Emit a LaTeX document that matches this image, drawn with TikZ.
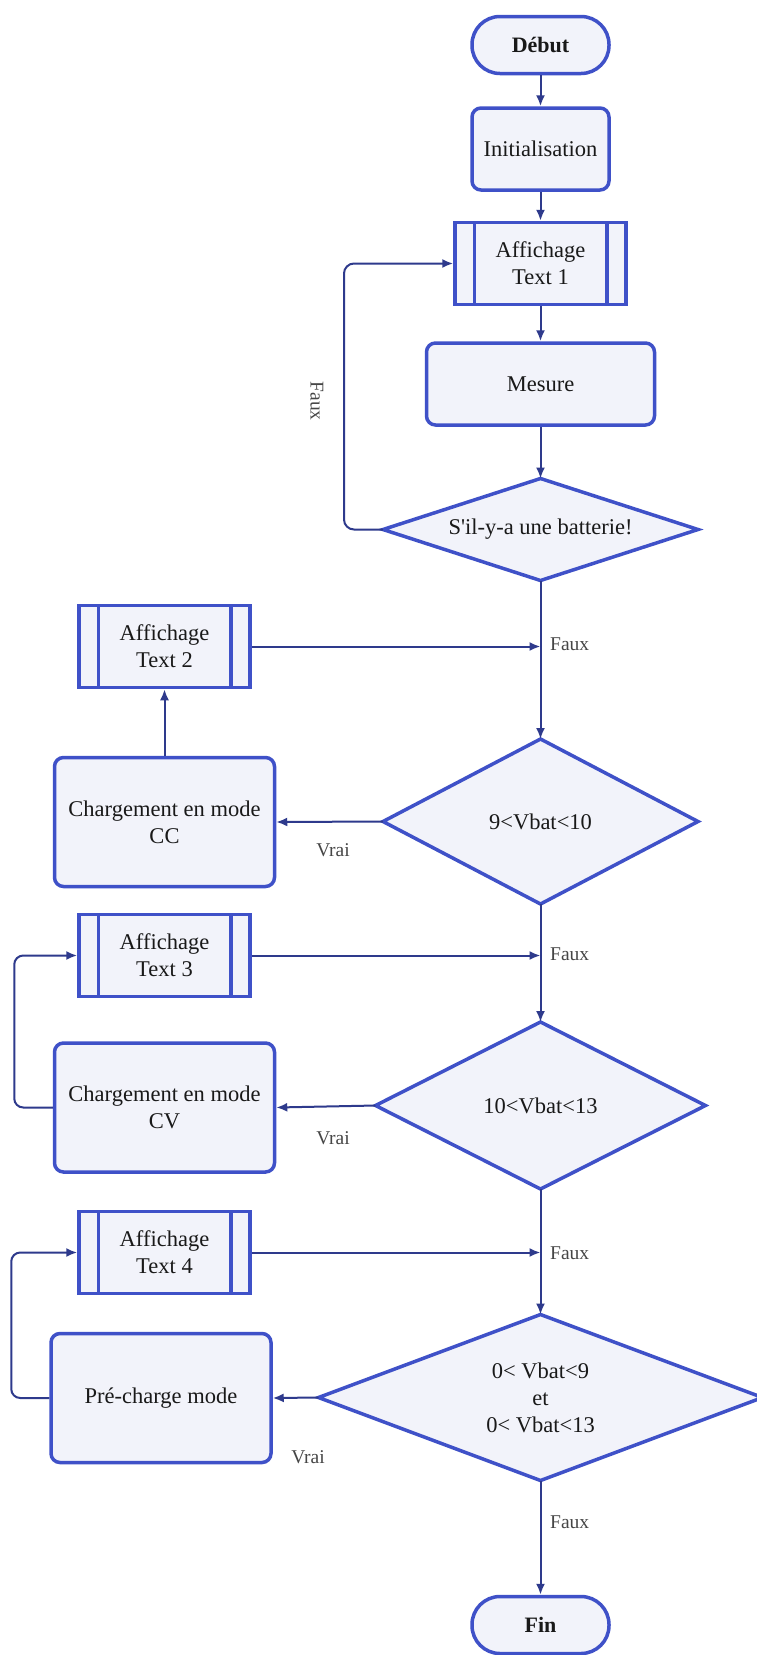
\documentclass[tikz,border=0pt]{standalone}
\usepackage{fontspec}
\setmainfont{Liberation Serif}
\usetikzlibrary{arrows.meta,backgrounds,calc}
\definecolor{bord}{RGB}{63,81,200}
\definecolor{fillc}{RGB}{242,243,250}
\definecolor{linec}{RGB}{46,58,140}
\definecolor{txt}{RGB}{25,25,25}
\definecolor{lbl}{RGB}{70,70,70}
\begin{document}
\begin{tikzpicture}[x=1pt,y=-1pt,
 base/.style={draw=bord, fill=fillc, line width=3.5pt, text=txt, font=\fontsize{22.5}{27}\selectfont, align=center, inner sep=0pt},
 term/.style={base, rounded corners=28pt, minimum width=137pt, minimum height=57pt, font=\fontsize{22}{27}\selectfont\bfseries},
 proc/.style={base, rounded corners=9pt},
 sub/.style={base, minimum width=171pt, minimum height=82pt},
 dec/.style={inner sep=0pt, outer sep=0pt, text=txt, font=\fontsize{22.5}{27}\selectfont, align=center},
 dshape/.style={draw=bord, fill=fillc, line width=3.5pt},
 subline/.style={draw=bord, line width=3.5pt},
 arr/.style={draw=linec, line width=2pt, -{Latex[length=11pt,width=9pt]}},
 lab/.style={text=lbl, font=\fontsize{19.5}{22}\selectfont, inner sep=0pt}
]
\useasboundingbox (0,0) rectangle (756,1655);

% nodes
\node[term] (start) at (540.5,45) {Début};
\node[proc, minimum width=137pt, minimum height=82pt] (init) at (540.5,149) {Initialisation};
\node[sub] (a1) at (540.5,263.5) {Affichage\\Text 1};
\node[proc, minimum width=228pt, minimum height=82pt] (mes) at (540.5,384) {Mesure};
\node[dec, minimum width=315pt, minimum height=102pt] (d1) at (540.5,529.5) {S\textquotesingle il-y-a une batterie!};
\node[sub] (a2) at (164.5,646.5) {Affichage\\Text 2};
\node[dec, minimum width=315pt, minimum height=165pt] (d2) at (540.5,821.5) {9<Vbat<10};
\node[proc, minimum width=220pt, minimum height=129pt] (cc) at (164.5,822) {Chargement en mode\\CC};
\node[sub] (a3) at (164.5,955.5) {Affichage\\Text 3};
\node[dec, minimum width=330pt, minimum height=167pt] (d3) at (540.5,1105.5) {10<Vbat<13};
\node[proc, minimum width=220pt, minimum height=129pt] (cv) at (164.5,1107.5) {Chargement en mode\\CV};
\node[sub] (a4) at (164.5,1252.5) {Affichage\\Text 4};
\node[dec, minimum width=444pt, minimum height=166pt] (d4) at (540.5,1397.5) {0< Vbat<9\\et\\0< Vbat<13};
\node[proc, minimum width=220pt, minimum height=129pt] (pc) at (161,1398) {Pré-charge mode};
\node[term] (fin) at (540.5,1625) {Fin};

% subroutine inner lines
\foreach \s in {a1,a2,a3,a4}{
  \draw[subline] ([xshift=21pt,yshift=-1.75pt]\s.north west) -- ([xshift=21pt,yshift=1.75pt]\s.south west);
  \draw[subline] ([xshift=-21pt,yshift=-1.75pt]\s.north east) -- ([xshift=-21pt,yshift=1.75pt]\s.south east);
}

% diamonds
\begin{scope}[on background layer]
\fill[white] (0,0) rectangle (756,1655);
\foreach \d in {d1,d2,d3,d4}
  \draw[dshape] (\d.north) -- (\d.east) -- (\d.south) -- (\d.west) -- cycle;
\end{scope}

% connectors
\draw[arr] (start) -- (init);
\draw[arr] (init) -- (a1);
\draw[arr] (a1) -- (mes);
\draw[arr] (mes) -- (d1.north);
\draw[arr, rounded corners=10pt] (d1.west) -- ++(-39,0) |- (a1.west);
\node[lab, rotate=-90] (f0) at (317,401) {Faux};

\draw[arr] (d1.south) -- (d2.north);
\coordinate (j1) at (d1.south |- a2.east);
\draw[arr] (a2.east) -- (j1);
\node[lab, anchor=west] (f1) at (550,644) {Faux};
\draw[arr] (d2.west) -- (cc.east);
\node[lab] (v1) at (333,850) {Vrai};
\draw[arr] (cc.north) -- (a2.south);

\draw[arr] (d2.south) -- (d3.north);
\coordinate (j2) at (d2.south |- a3.east);
\draw[arr] (a3.east) -- (j2);
\node[lab, anchor=west] (f2) at (550,954.5) {Faux};
\draw[arr] (d3.west) -- (cv.east);
\node[lab] (v2) at (333,1138) {Vrai};
\draw[arr, rounded corners=9pt] (cv.west) -- ++(-38.5,0) |- (a3.west);

\draw[arr] (d3.south) -- (d4.north);
\coordinate (j3) at (d3.south |- a4.east);
\draw[arr] (a4.east) -- (j3);
\node[lab, anchor=west] (f3) at (550,1253) {Faux};
\draw[arr] (d4.west) -- (pc.east);
\node[lab] (v3) at (308,1457) {Vrai};
\draw[arr, rounded corners=9pt] (pc.west) -- ++(-38,0) |- (a4.west);

\draw[arr] (d4.south) -- (fin);
\node[lab, anchor=west] (f4) at (550,1522.5) {Faux};
\end{tikzpicture}
\end{document}
